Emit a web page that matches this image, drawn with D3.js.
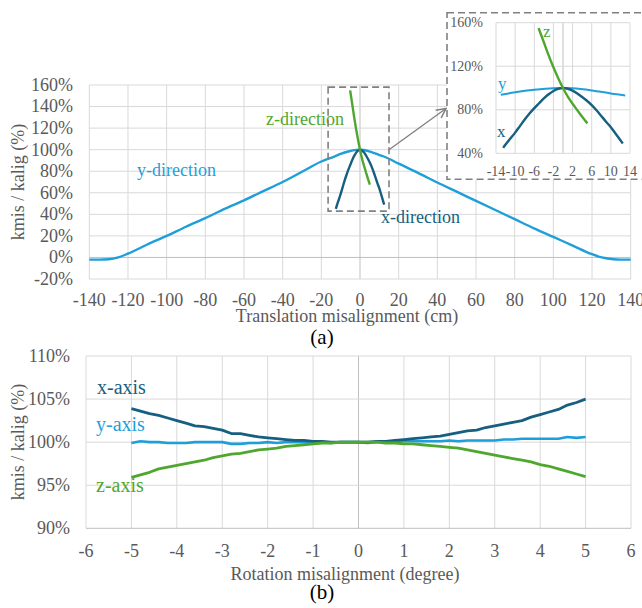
<!DOCTYPE html>
<html>
<head>
<meta charset="utf-8">
<script src="https://cdn.jsdelivr.net/npm/d3@7/dist/d3.min.js"></script>
</head>
<body style="margin:0;background:#fff">
<svg id="chart" width="642" height="608" style="display:block"></svg>
<script>
// ---- (a) translation misalignment: [cm, %] ----
const yDirection = [
  [-140, -2], [-135, -2], [-130, -1.7], [-125, 0], [-120, 3.5], [-110, 12], [-100, 20],
  [-90, 28.5], [-80, 36.5], [-70, 45], [-60, 53], [-50, 61.5], [-40, 70], [-30, 79.5],
  [-20, 89], [-13, 93.8], [-10, 96], [-6, 98.3], [-2, 99.8], [0, 100], [2, 99.7],
  [6, 97.8], [10, 95], [13, 93.2], [20, 87], [30, 78.5], [40, 69.5], [50, 61], [60, 52.5],
  [70, 44], [80, 35.5], [90, 27], [100, 19], [110, 11], [120, 3], [125, 0], [130, -1.5],
  [135, -2], [140, -2]
];
const xDirection = [
  [-12.5, 45], [-12, 48], [-11, 53.5], [-10, 59], [-9, 65], [-8, 71], [-7, 76.5], [-6, 81.5],
  [-5, 86], [-4, 90.5], [-3, 94.2], [-2, 97.3], [-1, 99.3], [0, 100], [1, 99.3], [2, 97.6],
  [3, 95], [4, 91.8], [5, 88.3], [6, 84.3], [7, 79.5], [8, 74.3], [9, 69], [10, 64],
  [11, 58], [12, 52], [12.5, 49]
];
const zDirection = [
  [-5.1, 155], [-4, 142], [-3, 130], [-2, 119], [-1, 109], [0, 100], [1, 92], [2, 85.5],
  [3, 79.5], [4, 73.5], [5.1, 67.5]
];
const transTicksX = d3.range(-140, 141, 20);
const transTicksY = d3.range(-20, 161, 20);
const insetTicksX = [-14, -10, -6, -2, 2, 6, 10, 14];
const insetTicksY = [40, 80, 120, 160];

// ---- (b) rotation misalignment: degree steps and % values ----
const rotDeg = d3.range(-25, 26).map(i => i / 5);
const xAxisRot = [103.9, 103.6, 103.3, 103.1, 102.8, 102.5, 102.2, 101.9, 101.8, 101.6, 101.4,
  101.0, 101.0, 100.8, 100.6, 100.5, 100.4, 100.3, 100.2, 100.2, 100.1, 100.1, 100.0, 100.0,
  100.0, 100.0, 100.0, 100.1, 100.1, 100.2, 100.3, 100.4, 100.5, 100.6, 100.7, 100.9, 101.1,
  101.3, 101.4, 101.7, 101.9, 102.1, 102.3, 102.5, 102.9, 103.2, 103.5, 103.8, 104.3, 104.6, 105.0];
const yAxisRot = [99.9, 100.1, 100.0, 100.0, 99.9, 99.9, 99.9, 100.0, 100.0, 100.0, 100.0,
  99.8, 99.8, 99.9, 99.9, 100.0, 99.9, 100.0, 100.0, 100.0, 100.0, 100.0, 99.9, 100.0, 100.0,
  100.0, 99.9, 100.0, 100.1, 100.0, 100.1, 100.1, 100.1, 100.1, 100.1, 100.2, 100.1, 100.2,
  100.2, 100.2, 100.2, 100.3, 100.3, 100.4, 100.4, 100.4, 100.4, 100.4, 100.6, 100.5, 100.6];
const zAxisRot = [95.9, 96.2, 96.5, 96.9, 97.1, 97.3, 97.5, 97.7, 97.9, 98.2, 98.4, 98.6, 98.7,
  98.9, 99.1, 99.2, 99.3, 99.5, 99.6, 99.7, 99.8, 99.9, 99.9, 100.0, 100.0, 100.0, 100.0, 100.0,
  99.9, 99.9, 99.8, 99.8, 99.7, 99.6, 99.5, 99.4, 99.3, 99.1, 98.9, 98.7, 98.5, 98.3, 98.1,
  97.9, 97.7, 97.4, 97.2, 96.9, 96.6, 96.3, 96.0];
const rotTicksX = d3.range(-6, 7, 1);
const rotTicksY = [90, 95, 100, 105, 110];

const FONT = "Liberation Serif";
const C_LIGHT = "#1f9fda";
const C_DARK = "#175f80";
const C_GREEN = "#4fa72f";
const C_GRID = "#d9d9d9";
const C_AXIS = "#bfbfbf";
const C_TEXT = "#595959";
const C_DASH = "#808080";

const svg = d3.select("#chart");

function grid(g, x, y, xs, ys, xZero, yZero) {
  xs.forEach(v => g.append("line")
    .attr("x1", x(v)).attr("x2", x(v)).attr("y1", y.range()[0]).attr("y2", y.range()[1])
    .attr("stroke", v === xZero ? C_AXIS : C_GRID).attr("stroke-width", 1));
  ys.forEach(v => g.append("line")
    .attr("x1", x.range()[0]).attr("x2", x.range()[1]).attr("y1", y(v)).attr("y2", y(v))
    .attr("stroke", v === yZero ? C_AXIS : C_GRID).attr("stroke-width", 1));
}

function series(g, data, x, y, color, width, curve) {
  g.append("path").datum(data)
    .attr("fill", "none").attr("stroke", color).attr("stroke-width", width)
    .attr("stroke-linejoin", "round").attr("stroke-linecap", "butt")
    .attr("d", d3.line().x(d => x(d[0])).y(d => y(d[1])).curve(curve));
}

function label(g, txt, x, y, opts) {
  const t = g.append("text").attr("x", x).attr("y", y).text(txt)
    .attr("font-family", FONT)
    .attr("font-size", opts.size || 18).attr("fill", opts.color || C_TEXT)
    .attr("text-anchor", opts.anchor || "start");
  if (opts.rotate) t.attr("transform", `rotate(-90,${x},${y})`);
  return t;
}

// ================= (a) =================
const xa = d3.scaleLinear().domain([-140, 140]).range([89.3, 630.7]);
const ya = d3.scaleLinear().domain([-20, 160]).range([279, 85]);
const ga = svg.append("g");
grid(ga, xa, ya, transTicksX.filter(v => v !== 0).concat([0]), transTicksY.filter(v => v !== 0).concat([0]), 0, 0);

transTicksY.forEach(v => label(ga, v + "%", 73, ya(v), { anchor: "end" }).attr("dy", "0.33em"));
transTicksX.forEach(v => label(ga, String(v), xa(v), 306, { anchor: "middle" }));
label(ga, "Translation misalignment (cm)", 347, 322, { anchor: "middle" });
label(ga, "kmis / kalig (%)", 24, 182, { anchor: "middle", rotate: true });
label(ga, "(a)", 322, 344, { anchor: "middle", size: 21, color: "#000" });

series(ga, yDirection, xa, ya, C_LIGHT, 2.4, d3.curveMonotoneX);
series(ga, xDirection, xa, ya, C_DARK, 2.4, d3.curveMonotoneX);
series(ga, zDirection, xa, ya, C_GREEN, 2.4, d3.curveMonotoneX);

label(ga, "z-direction", 266, 125, { color: C_GREEN });
label(ga, "y-direction", 137, 176, { color: C_LIGHT });
label(ga, "x-direction", 381, 223, { color: C_DARK });

// dashed zoom frame around the centre region
ga.append("rect")
  .attr("x", xa(-16.5)).attr("y", ya(158))
  .attr("width", xa(15) - xa(-16.5)).attr("height", ya(43) - ya(158))
  .attr("fill", "none").attr("stroke", C_DASH).attr("stroke-width", 1.6)
  .attr("stroke-dasharray", "7,4");

// arrow toward the inset
svg.append("defs").append("marker")
  .attr("id", "arr").attr("viewBox", "0 0 10 10").attr("refX", 9).attr("refY", 5)
  .attr("markerWidth", 9).attr("markerHeight", 9).attr("orient", "auto")
  .append("path").attr("d", "M1,1 L9,5 L1,9").attr("fill", "none")
  .attr("stroke", C_DASH).attr("stroke-width", 1.3);
ga.append("line")
  .attr("x1", xa(15)).attr("y1", ya(100)).attr("x2", 446).attr("y2", 108.5)
  .attr("stroke", C_DASH).attr("stroke-width", 1.3).attr("marker-end", "url(#arr)");

// ---- inset ----
const gi = svg.append("g");
gi.append("rect").attr("x", 447).attr("y", 12.7).attr("width", 210).attr("height", 166.6)
  .attr("fill", "#fff").attr("stroke", C_DASH).attr("stroke-width", 1.6)
  .attr("stroke-dasharray", "7,4");
const xi = d3.scaleLinear().domain([-14, 14]).range([496, 630]);
const yi = d3.scaleLinear().domain([40, 160]).range([153.3, 22.7]);
grid(gi, xi, yi, [-14, -10, -6, -2, 2, 6, 10, 14, 0], insetTicksY, 0, null);
insetTicksY.forEach(v => label(gi, v + "%", 483, yi(v), { anchor: "end", size: 14 }).attr("dy", "0.33em"));
insetTicksX.forEach(v => label(gi, String(v), xi(v), 176, { anchor: "middle", size: 14 }));
series(gi, yDirection.filter(d => d[0] >= -13 && d[0] <= 13), xi, yi, C_LIGHT, 2, d3.curveMonotoneX);
series(gi, xDirection, xi, yi, C_DARK, 2.4, d3.curveMonotoneX);
series(gi, zDirection, xi, yi, C_GREEN, 2.4, d3.curveMonotoneX);
label(gi, "z", 543, 37, { color: C_GREEN, size: 17 });
label(gi, "y", 498, 89, { color: C_LIGHT, size: 17 });
label(gi, "x", 497, 137, { color: C_DARK, size: 17 });

// ================= (b) =================
const xb = d3.scaleLinear().domain([-6, 6]).range([86, 631]);
const yb = d3.scaleLinear().domain([90, 110]).range([528.3, 356]);
const gb = svg.append("g");
grid(gb, xb, yb, rotTicksX.filter(v => v !== 0).concat([0]), rotTicksY, 0, 90);
rotTicksY.forEach(v => label(gb, v + "%", 70, yb(v), { anchor: "end" }).attr("dy", "0.33em"));
rotTicksX.forEach(v => label(gb, String(v), xb(v), 557, { anchor: "middle" }));
label(gb, "Rotation misalignment (degree)", 345, 580, { anchor: "middle" });
label(gb, "kmis / kalig (%)", 24, 442, { anchor: "middle", rotate: true });
label(gb, "(b)", 322, 599, { anchor: "middle", size: 21, color: "#000" });

const zip = vals => rotDeg.map((d, i) => [d, vals[i]]);
series(gb, zip(yAxisRot), xb, yb, C_LIGHT, 2.6, d3.curveLinear);
series(gb, zip(xAxisRot), xb, yb, C_DARK, 2.8, d3.curveLinear);
series(gb, zip(zAxisRot), xb, yb, C_GREEN, 2.8, d3.curveLinear);

label(gb, "x-axis", 97, 394, { color: C_DARK, size: 20 });
label(gb, "y-axis", 96, 431, { color: C_LIGHT, size: 20 });
label(gb, "z-axis", 96, 492, { color: C_GREEN, size: 20 });
</script>
</body>
</html>
